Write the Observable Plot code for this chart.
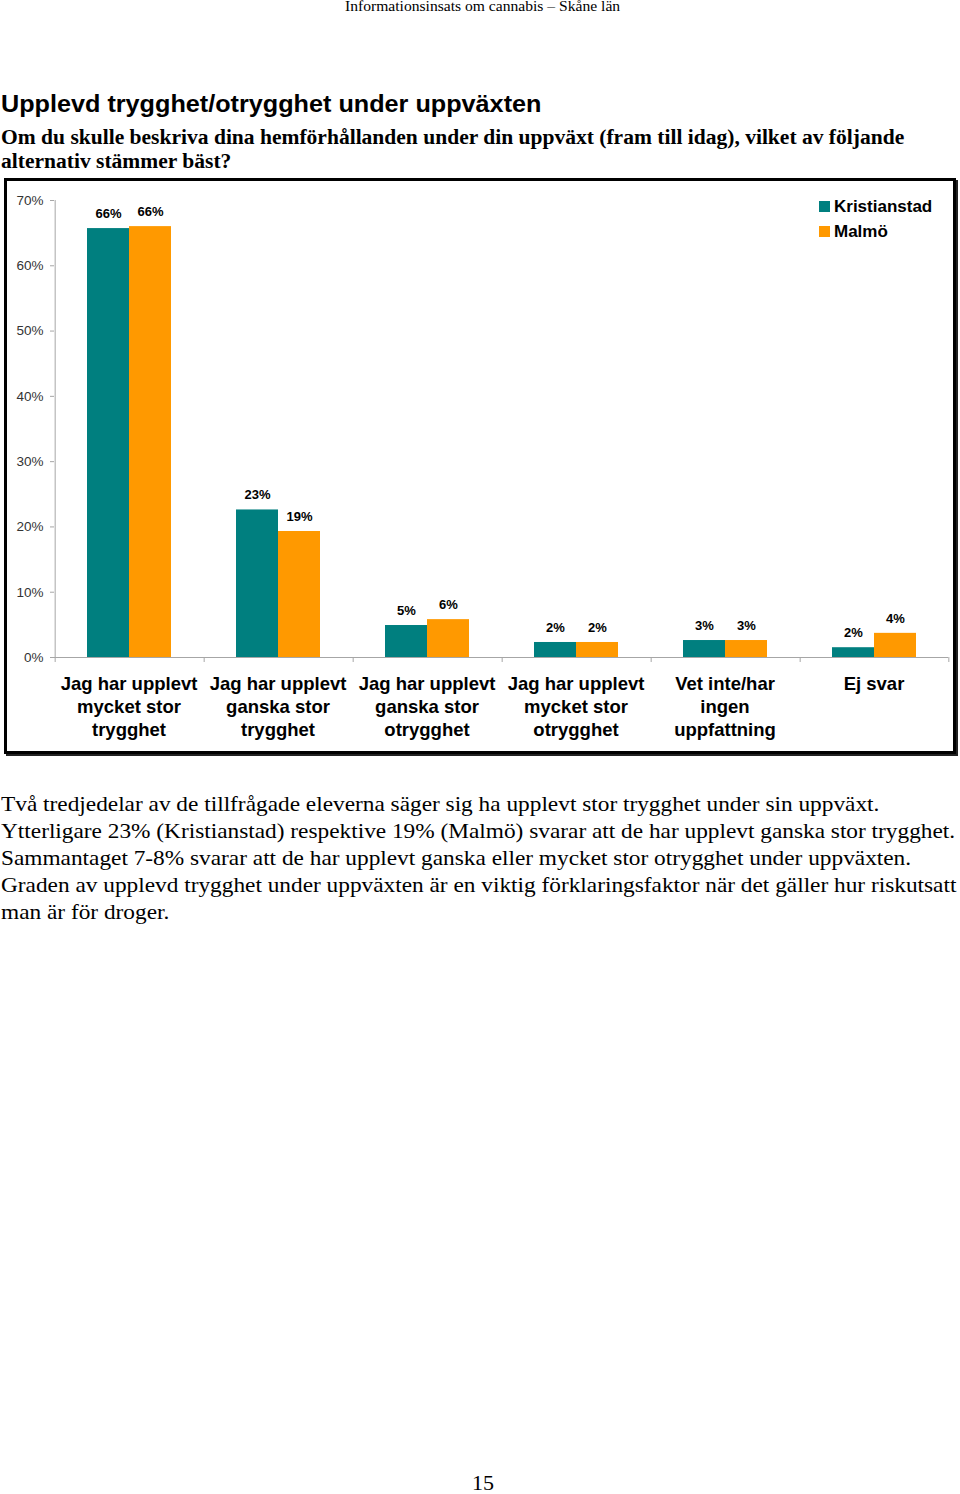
<!DOCTYPE html>
<html>
<head>
<meta charset="utf-8">
<script src="https://cdn.jsdelivr.net/npm/d3@7"></script>
<script src="https://cdn.jsdelivr.net/npm/@observablehq/plot@0.6"></script>
<style>
  html, body { margin: 0; padding: 0; background: #fff; }
  body { width: 960px; height: 1494px; position: relative; overflow: hidden; }
  .serif { font-family: "Liberation Serif", "Times New Roman", serif; color: #000; transform-origin: 0 0; white-space: nowrap; }
  #header { position: absolute; left: 345px; top: -2px; font-size: 15px; transform: scaleX(1.04); }
  #title { position: absolute; left: 1px; top: 90px; font-family: "Liberation Sans", Arial, sans-serif; font-weight: bold; font-size: 24px; transform-origin: 0 0; transform: scaleX(1.05); white-space: nowrap; }
  #subtitle { position: absolute; left: 1px; top: 125px; font-weight: bold; font-size: 20.5px; line-height: 24px; transform: scaleX(1.05); }
  #box { position: absolute; left: 4px; top: 178px; width: 946px; height: 570px; border: 3px solid #000; box-shadow: 2px 2px 0 #222; background: #fff; }
  #chart { position: absolute; left: 0; top: 0; }
  #legend { position: absolute; left: 812px; top: 15px; font-family: "Liberation Sans", Arial, sans-serif; font-weight: bold; font-size: 17px; }
  #legend div { height: 25px; line-height: 22px; white-space: nowrap; }
  #legend span.sw { display: inline-block; width: 11px; height: 11px; margin-right: 4px; vertical-align: 0px; }
  #para { position: absolute; left: 1px; top: 791px; font-size: 21px; line-height: 27px; transform: scaleX(1.11); }
  #page { position: absolute; left: 472px; top: 1470px; font-size: 22px; }
</style>
</head>
<body>
<div id="header" class="serif">Informationsinsats om cannabis – Skåne län</div>
<div id="title">Upplevd trygghet/otrygghet under uppväxten</div>
<div id="subtitle" class="serif">Om du skulle beskriva dina hemförhållanden under din uppväxt (fram till idag), vilket av följande<br>alternativ stämmer bäst?</div>
<div id="box">
  <div id="chart"></div>
  <div id="legend"></div>
</div>
<div id="para" class="serif">Två tredjedelar av de tillfrågade eleverna säger sig ha upplevt stor trygghet under sin uppväxt.<br>Ytterligare 23% (Kristianstad) respektive 19% (Malmö) svarar att de har upplevt ganska stor trygghet.<br>Sammantaget 7-8% svarar att de har upplevt ganska eller mycket stor otrygghet under uppväxten.<br>Graden av upplevd trygghet under uppväxten är en viktig förklaringsfaktor när det gäller hur riskutsatt<br>man är för droger.</div>
<div id="page" class="serif">15</div>

<script>
// ---- data ----
const categories = [
  "Jag har upplevt\nmycket stor\ntrygghet",
  "Jag har upplevt\nganska stor\ntrygghet",
  "Jag har upplevt\nganska stor\notrygghet",
  "Jag har upplevt\nmycket stor\notrygghet",
  "Vet inte/har\ningen\nuppfattning",
  "Ej svar"
];
const series = ["Kristianstad", "Malmö"];
const kristianstad = [65.7, 22.6, 4.9, 2.3, 2.6, 1.5];
const malmo = [66.0, 19.3, 5.8, 2.3, 2.6, 3.7];
const yTicks = [0, 10, 20, 30, 40, 50, 60, 70];
const colors = ["#007f7f", "#ff9900"];

const rows = [];
categories.forEach((c, i) => {
  rows.push({cat: c, series: series[0], value: kristianstad[i]});
  rows.push({cat: c, series: series[1], value: malmo[i]});
});

// ---- layout ----
const W = 946, H = 570;
const mL = 45, mR = 3, mT = 19, mB = 94;
const step = (W - mL - mR) / categories.length;
const padOuter = 0.74;
const barW = step / (2 + 2 * padOuter);
const edgeFromCenter = barW / 2 + padOuter * barW;

const axisColor = "#a6a6a6";

const chart = Plot.plot({
  width: W,
  height: H,
  marginLeft: mL,
  marginRight: mR,
  marginTop: mT,
  marginBottom: mB,
  style: {fontFamily: "'Liberation Sans', Arial, sans-serif", background: "transparent", overflow: "visible"},
  fx: {domain: categories, padding: 0, label: null},
  x: {domain: series, paddingInner: 0, paddingOuter: padOuter, axis: null},
  y: {domain: [0, 70], axis: null},
  color: {domain: series, range: colors},
  marks: [
    Plot.axisY({ticks: yTicks, tickFormat: d => d + "%", tickSize: 4, tickPadding: 7, fontSize: 13.5, color: "#333", stroke: axisColor, label: null}),
    Plot.axisFx({anchor: "bottom", tickSize: 0, tickPadding: 16, fontSize: 18.5, fontWeight: "bold", lineHeight: 1.24, label: null, fill: "#000"}),
    Plot.ruleY([0], {stroke: axisColor}),
    Plot.ruleX([categories[0]], {fx: d => d, x: () => series[0], dx: -edgeFromCenter, y1: () => 70, y2: () => 0, insetBottom: -5, stroke: axisColor}),
    Plot.ruleX(categories.slice(1), {fx: d => d, x: () => series[0], dx: -edgeFromCenter, y1: () => 0, y2: () => 0, insetBottom: -5, stroke: axisColor}),
    Plot.ruleX([categories[categories.length - 1]], {fx: d => d, x: () => series[1], dx: edgeFromCenter, y1: () => 0, y2: () => 0, insetBottom: -5, stroke: axisColor}),
    Plot.barY(rows, {fx: "cat", x: "series", y: "value", fill: "series"}),
    Plot.text(rows, {fx: "cat", x: "series", y: "value", text: d => Math.round(d.value) + "%", dy: -15, fontSize: 13, fontWeight: "bold", fill: "#000"})
  ]
});
document.getElementById("chart").appendChild(chart);

// legend
const legend = document.getElementById("legend");
series.forEach((s, i) => {
  const row = document.createElement("div");
  const sw = document.createElement("span");
  sw.className = "sw";
  sw.style.background = colors[i];
  row.appendChild(sw);
  row.appendChild(document.createTextNode(s));
  legend.appendChild(row);
});
</script>
</body>
</html>
